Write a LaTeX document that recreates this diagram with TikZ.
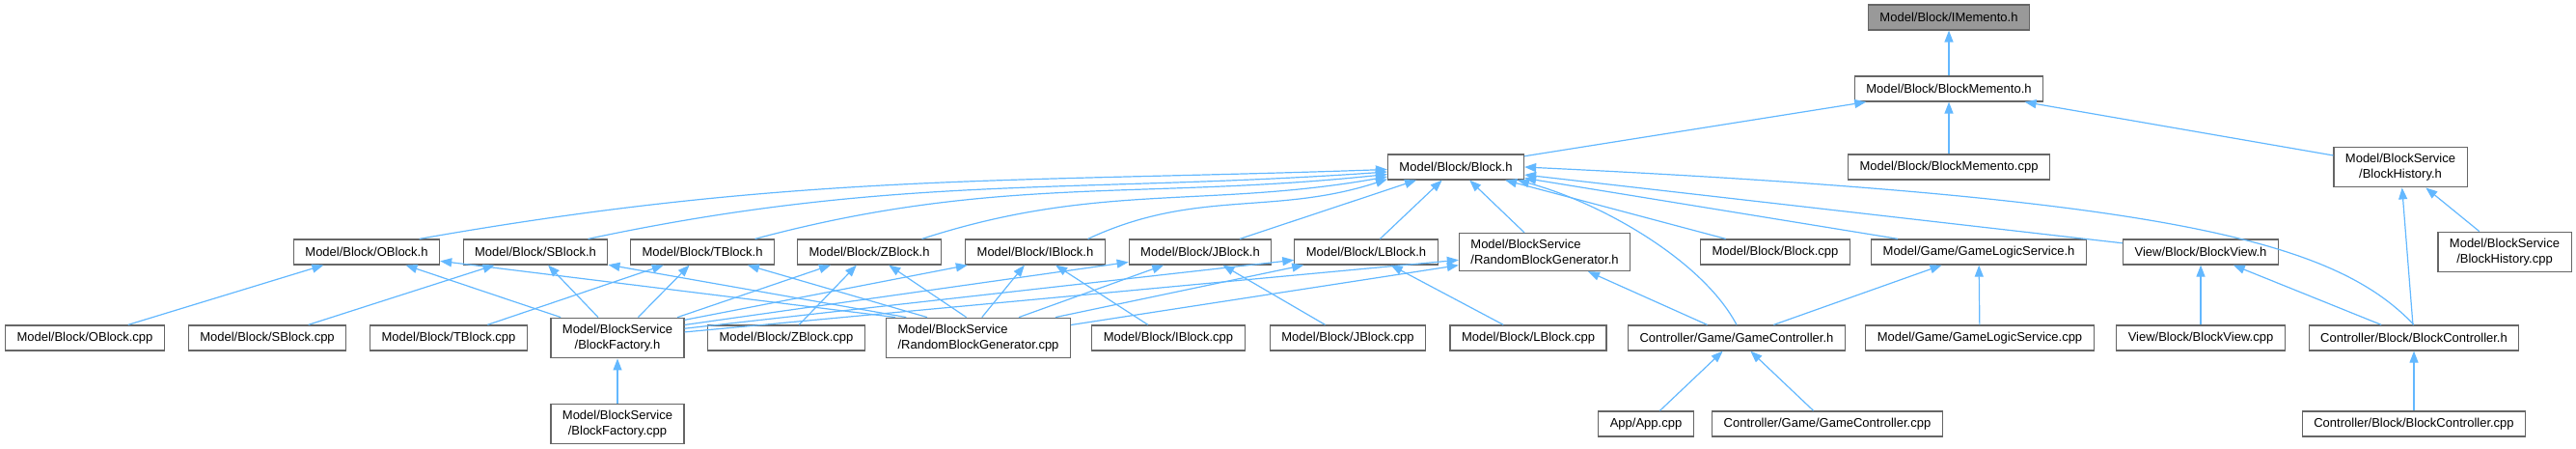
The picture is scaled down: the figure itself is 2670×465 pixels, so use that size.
\documentclass[tikz,border=0pt]{standalone}
\usepackage{fontspec}
\setmainfont{Liberation Sans}
\usepackage{tikz}
\usetikzlibrary{arrows.meta}
\definecolor{incblue}{RGB}{99,184,255}
\definecolor{boxgray}{RGB}{102,102,102}
\definecolor{rootgray}{RGB}{153,153,153}
\tikzset{
  filebox/.style={draw=boxgray, fill=white, line width=1.2pt, inner xsep=12pt, inner ysep=7pt, minimum height=26pt, font={\fontsize{13}{15.5}\selectfont}, align=center},
  rootbox/.style={filebox, fill=rootgray},
  leftbox/.style={filebox, align=left},
  inc/.style={-{Triangle[length=12pt,width=9pt]}, incblue, line width=1.2pt},
}
\begin{document}
\begin{tikzpicture}[x=1pt,y=1pt]
  \useasboundingbox (0,0) rectangle (2670,-465);
  % top of the graph
  \node[rootbox] (imem) at (2020,-18) {Model/Block/IMemento.h};
  \node[filebox] (bmemh) at (2020,-92) {Model/Block/BlockMemento.h};
  \node[filebox] (blockh) at (1509,-173) {Model/Block/Block.h};
  \node[filebox] (bmemcpp) at (2020,-173) {Model/Block/BlockMemento.cpp};
  \node[filebox] (bhisth) at (2488,-173) {Model/BlockService\\/BlockHistory.h};
  % headers
  \node[filebox] (oblkh) at (380,-261) {Model/Block/OBlock.h};
  \node[filebox] (sblkh) at (555,-261) {Model/Block/SBlock.h};
  \node[filebox] (tblkh) at (728,-261) {Model/Block/TBlock.h};
  \node[filebox] (zblkh) at (901,-261) {Model/Block/ZBlock.h};
  \node[filebox] (iblkh) at (1073,-261) {Model/Block/IBlock.h};
  \node[filebox] (jblkh) at (1244,-261) {Model/Block/JBlock.h};
  \node[filebox] (lblkh) at (1416,-261) {Model/Block/LBlock.h};
  \node[leftbox] (rbgh) at (1601,-261) {Model/BlockService\\/RandomBlockGenerator.h};
  \node[filebox] (blockcpp) at (1840,-261) {Model/Block/Block.cpp};
  \node[filebox] (glsh) at (2051,-261) {Model/Game/GameLogicService.h};
  \node[filebox] (bviewh) at (2281,-261) {View/Block/BlockView.h};
  \node[filebox] (bhistcpp) at (2596,-261) {Model/BlockService\\/BlockHistory.cpp};
  % sources
  \node[filebox] (oblkcpp) at (88,-350) {Model/Block/OBlock.cpp};
  \node[filebox] (sblkcpp) at (277,-350) {Model/Block/SBlock.cpp};
  \node[filebox] (tblkcpp) at (465,-350) {Model/Block/TBlock.cpp};
  \node[filebox] (bfacth) at (640,-350) {Model/BlockService\\/BlockFactory.h};
  \node[filebox] (zblkcpp) at (815,-350) {Model/Block/ZBlock.cpp};
  \node[leftbox] (rbgcpp) at (1014,-350) {Model/BlockService\\/RandomBlockGenerator.cpp};
  \node[filebox] (iblkcpp) at (1211,-350) {Model/Block/IBlock.cpp};
  \node[filebox] (jblkcpp) at (1397,-350) {Model/Block/JBlock.cpp};
  \node[filebox] (lblkcpp) at (1584,-350) {Model/Block/LBlock.cpp};
  \node[filebox] (gamech) at (1800,-350) {Controller/Game/GameController.h};
  \node[filebox] (glscpp) at (2052,-350) {Model/Game/GameLogicService.cpp};
  \node[filebox] (bviewcpp) at (2281,-350) {View/Block/BlockView.cpp};
  \node[filebox] (bctrlh) at (2502,-350) {Controller/Block/BlockController.h};
  % bottom row
  \node[filebox] (bfactcpp) at (640,-439) {Model/BlockService\\/BlockFactory.cpp};
  \node[filebox] (appcpp) at (1706,-439) {App/App.cpp};
  \node[filebox] (gameccpp) at (1894,-439) {Controller/Game/GameController.cpp};
  \node[filebox] (bctrlcpp) at (2502,-439) {Controller/Block/BlockController.cpp};

  % memento part
  \draw[inc] (bmemh) -- (imem);
  \draw[inc] (blockh) -- (bmemh);
  \draw[inc] (bmemcpp) -- (bmemh);
  \draw[inc] (bhisth) -- (bmemh);
  \draw[inc] (bhistcpp) -- (bhisth);
  \draw[inc] (bctrlh) -- (bhisth);

  % everything that includes Block.h
  \foreach \p/\o/\i/\e in {o/10/182/182, s/12/184/184, t/15/186/186, z/18/190/188, i/25/198/190}
    \draw[inc] (\p blkh.14) to[out=\o,in=\i] (blockh.\e);
  \foreach \n in {jblkh, lblkh, rbgh, blockcpp, glsh, bviewh}
    \draw[inc] (\n) -- (blockh);
  \draw[inc] (gamech.north) .. controls (1765,-270) and (1660,-210) .. (blockh.-12);
  \draw[inc] (bctrlh.north) .. controls (2420,-250) and (2250,-205) .. (blockh.east);

  % block headers
  \foreach \p in {o,s,t,z,i,j,l}
    \draw[inc] (\p blkcpp) -- (\p blkh);
  \foreach \p/\a in {o/160, s/133, t/45, z/19, i/15, j/11, l/8}
    \draw[inc] (bfacth.\a) -- (\p blkh);
  \foreach \p/\a in {o/166, s/164, t/158, z/120, i/80, j/27, l/15}
    \draw[inc] (rbgcpp.\a) -- (\p blkh);
  \draw[inc] (bfacth.5) -- (rbgh);
  \draw[inc] (rbgcpp.8) -- (rbgh);
  \draw[inc] (bfactcpp) -- (bfacth);

  % game and view
  \draw[inc] (gamech) -- (rbgh);
  \draw[inc] (gamech) -- (glsh);
  \draw[inc] (glscpp) -- (glsh);
  \draw[inc] (appcpp) -- (gamech);
  \draw[inc] (gameccpp) -- (gamech);
  \draw[inc] (bviewcpp) -- (bviewh);
  \draw[inc] (bctrlh) -- (bviewh);
  \draw[inc] (bctrlcpp) -- (bctrlh);
\end{tikzpicture}
\end{document}
